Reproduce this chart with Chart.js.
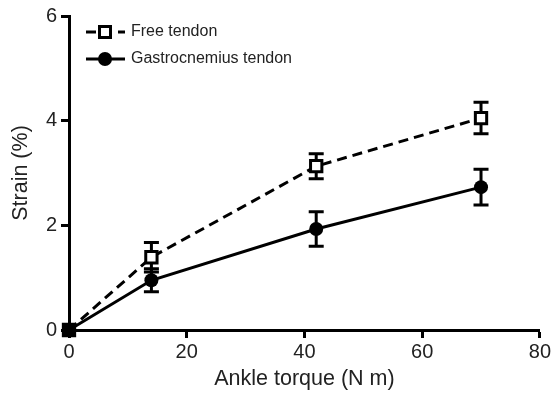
<!DOCTYPE html>
<html>
<head>
<meta charset="utf-8">
<script src="https://cdn.jsdelivr.net/npm/chart.js@4.4.1/dist/chart.umd.min.js"></script>
<style>
  html, body { margin: 0; padding: 0; background: #fff; }
  #wrap { width: 553px; height: 394px; position: relative; }
</style>
</head>
<body>
<div id="wrap"><canvas id="c" width="553" height="394"></canvas></div>
<script>
const torque = [0, 14, 42, 70];
const freeStrain = [0, 1.39, 3.13, 4.05];
const freeErr = [0, 0.28, 0.24, 0.30];
const gastroStrain = [0, 0.95, 1.93, 2.73];
const gastroErr = [0, 0.22, 0.33, 0.34];
const xTicks = [0, 20, 40, 60, 80];
const yTicks = [0, 2, 4, 6];
const seriesNames = ['Free tendon', 'Gastrocnemius tendon'];
const xTitle = 'Ankle torque (N m)';
const yTitle = 'Strain (%)';

const FONT = "'Liberation Sans', Arial, Helvetica, sans-serif";
const TEXT = '#222';

const errorBars = {
  id: 'errorBars',
  beforeDatasetsDraw(chart) {
    const { ctx, scales: { x, y } } = chart;
    ctx.save();
    ctx.strokeStyle = '#000';
    ctx.lineWidth = 3;
    chart.data.datasets.forEach(ds => {
      ds.errors.forEach((e, i) => {
        if (!e) return;
        const px = x.getPixelForValue(ds.data[i].x);
        const top = y.getPixelForValue(ds.data[i].y + e);
        const bot = y.getPixelForValue(ds.data[i].y - e);
        ctx.beginPath();
        ctx.moveTo(px, top); ctx.lineTo(px, bot);
        ctx.moveTo(px - 7.5, top); ctx.lineTo(px + 7.5, top);
        ctx.moveTo(px - 7.5, bot); ctx.lineTo(px + 7.5, bot);
        ctx.stroke();
      });
    });
    ctx.restore();
  }
};

const customLegend = {
  id: 'customLegend',
  afterDraw(chart) {
    const { ctx } = chart;
    ctx.save();
    const rows = [32, 59];
    chart.data.datasets.forEach((ds, i) => {
      const yy = rows[i];
      ctx.strokeStyle = '#000';
      ctx.lineWidth = 3;
      ctx.setLineDash(ds.borderDash || []);
      ctx.beginPath();
      ctx.moveTo(86, yy); ctx.lineTo(125, yy);
      ctx.stroke();
      ctx.setLineDash([]);
      if (ds.pointStyle === 'rect') {
        ctx.fillStyle = '#fff';
        ctx.fillRect(99.5, yy - 5.5, 11, 11);
        ctx.strokeRect(99.5, yy - 5.5, 11, 11);
      } else {
        ctx.fillStyle = '#000';
        ctx.beginPath();
        ctx.arc(105, yy, 7, 0, Math.PI * 2);
        ctx.fill();
      }
      ctx.fillStyle = TEXT;
      ctx.font = '16px ' + FONT;
      ctx.textBaseline = 'middle';
      ctx.textAlign = 'left';
      ctx.fillText(ds.label, 131, yy);
    });
    ctx.restore();
  }
};

const toPts = (xs, ys) => xs.map((v, i) => ({ x: v, y: ys[i] }));

new Chart(document.getElementById('c'), {
  type: 'line',
  data: {
    datasets: [
      {
        label: seriesNames[0],
        data: toPts(torque, freeStrain),
        errors: freeErr,
        borderColor: '#000',
        borderWidth: 3,
        borderDash: [10, 6],
        pointStyle: 'rect',
        pointRadius: 8,
        pointBorderWidth: 3,
        pointBackgroundColor: '#fff',
        pointBorderColor: '#000',
        fill: false,
        tension: 0,
        clip: false,
        order: 2
      },
      {
        label: seriesNames[1],
        data: toPts(torque, gastroStrain),
        errors: gastroErr,
        borderColor: '#000',
        borderWidth: 3,
        pointStyle: 'circle',
        pointRadius: 7,
        pointBorderWidth: 0,
        pointBackgroundColor: '#000',
        pointBorderColor: '#000',
        fill: false,
        tension: 0,
        clip: false,
        order: 1
      }
    ]
  },
  options: {
    responsive: false,
    animation: false,
    devicePixelRatio: 1,
    layout: { padding: { top: 16, right: 13, left: 0, bottom: 0 } },
    plugins: { legend: { display: false }, tooltip: { enabled: false } },
    scales: {
      x: {
        type: 'linear',
        min: 0, max: 80,
        afterBuildTicks: s => { s.ticks = xTicks.map(v => ({ value: v })); },
        afterFit: s => { s.height = 64; },
        ticks: { color: TEXT, font: { family: FONT, size: 20 }, padding: 2, maxRotation: 0 },
        grid: { display: true, drawOnChartArea: false, drawTicks: true, tickLength: 8, tickWidth: 3, tickColor: '#000' },
        border: { display: true, color: '#000', width: 3 },
        title: { display: true, text: xTitle, color: TEXT, font: { family: FONT, size: 21.5 }, padding: { top: 0, bottom: 2 } }
      },
      y: {
        type: 'linear',
        min: 0, max: 6,
        afterBuildTicks: s => { s.ticks = yTicks.map(v => ({ value: v })); },
        afterFit: s => { s.width = 69; },
        ticks: { color: TEXT, font: { family: FONT, size: 20 }, padding: 4 },
        grid: { display: true, drawOnChartArea: false, drawTicks: true, tickLength: 8, tickWidth: 3, tickColor: '#000' },
        border: { display: true, color: '#000', width: 3 },
        title: { display: true, text: yTitle, color: TEXT, font: { family: FONT, size: 21.5 }, padding: { top: 8, bottom: 0 } }
      }
    }
  },
  plugins: [errorBars, customLegend]
});
</script>
</body>
</html>
